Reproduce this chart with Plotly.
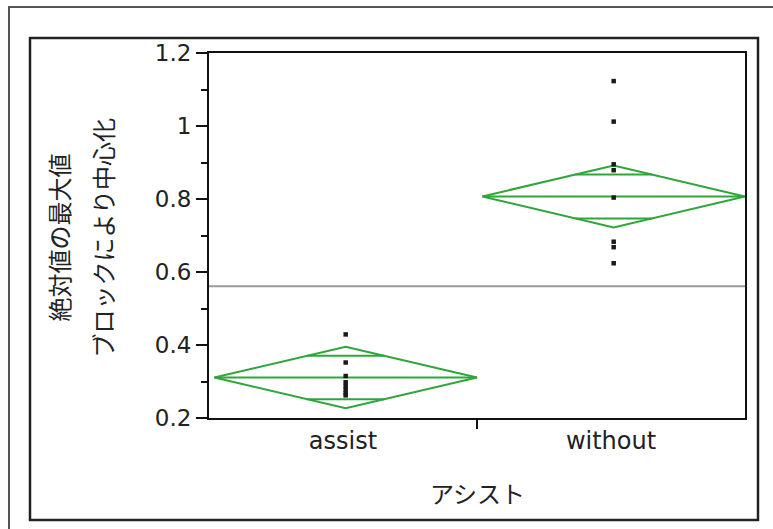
import plotly.graph_objects as go

# ---- data -------------------------------------------------------------
groups = ["assist", "without"]
group_pos = [0.51, 1.51]          # x position of each group's points / diamond centre
label_pos = [0.5, 1.5]            # x position of the category labels

assist_values = [0.429, 0.352, 0.315, 0.298, 0.288, 0.278, 0.268, 0.262]
without_values = [1.123, 1.012, 0.895, 0.879, 0.804, 0.683, 0.668, 0.624]

group_means = [0.311, 0.807]
ci_half = [0.084, 0.085]          # half width of the 95% confidence interval
grand_mean = 0.561

y_title_lines = ["絶対値の最大値", "ブロックにより中心化"]
x_title = "アシスト"

# ---- styling ----------------------------------------------------------
W, H = 773, 529
L, R, T, B = 209, 28, 53, 111      # plot area margins
PW, PH = W - L - R, H - T - B
GREEN = "#2fa63a"
FONT = "DejaVu Sans, Noto Sans CJK JP"
CJK = "Noto Sans CJK JP"
diamond_half_w = 0.49


def px_x(px):
    return (px - L) / PW


def px_y(py):
    return (H - B - py) / PH


fig = go.Figure()

# grand mean reference line
fig.add_trace(go.Scatter(x=[0, 2], y=[grand_mean, grand_mean], mode="lines",
                         line=dict(color="#9a9a9a", width=2), hoverinfo="skip"))

# means diamonds with overlap marks
for xc, m, ci in zip(group_pos, group_means, ci_half):
    xl, xr = xc - diamond_half_w, xc + diamond_half_w
    fig.add_trace(go.Scatter(
        x=[xl, xc, xr, xc, xl], y=[m, m + ci, m, m - ci, m],
        mode="lines", line=dict(color=GREEN, width=2)))
    fig.add_trace(go.Scatter(x=[xl, xr], y=[m, m], mode="lines",
                             line=dict(color=GREEN, width=2)))
    off = ci / 2 ** 0.5
    frac = 1 - off / ci
    for yy in (m + off, m - off):
        fig.add_trace(go.Scatter(
            x=[xc - diamond_half_w * frac, xc + diamond_half_w * frac],
            y=[yy, yy], mode="lines", line=dict(color=GREEN, width=2)))

# observations
for xc, vals in zip(group_pos, [assist_values, without_values]):
    fig.add_trace(go.Scatter(x=[xc] * len(vals), y=vals, mode="markers",
                             marker=dict(symbol="square", size=4.5, color="#1a1a1a",
                                         line=dict(width=0))))

# boundary tick between the two groups
fig.add_trace(go.Scatter(x=[1], y=[0.2], xaxis="x2", mode="markers",
                         marker=dict(opacity=0), hoverinfo="skip"))

fig.update_layout(
    width=W, height=H,
    margin=dict(l=L, r=R, t=T, b=B),
    paper_bgcolor="white", plot_bgcolor="white",
    showlegend=False,
    font=dict(family=FONT, size=23, color="#222"),
    xaxis=dict(range=[0, 2], tickvals=label_pos, ticktext=groups, ticks="",
               showgrid=False, zeroline=False, showline=True, linecolor="#111",
               linewidth=2, mirror=True, ticklabelstandoff=0,
               tickfont=dict(size=24)),
    xaxis2=dict(range=[0, 2], overlaying="x", anchor="y", side="bottom",
                tickvals=[1], ticks="outside", ticklen=10, tickwidth=2,
                tickcolor="#111", showticklabels=False, showgrid=False,
                zeroline=False, showline=False),
    yaxis=dict(range=[0.2, 1.2], dtick=0.2, tick0=0.2, ticks="outside",
               ticklen=11, tickwidth=2, tickcolor="#111", showgrid=False,
               zeroline=False, showline=True, linecolor="#111", linewidth=2,
               mirror=True,
               minor=dict(dtick=0.1, ticks="outside", ticklen=6, tickwidth=2,
                          tickcolor="#111", showgrid=False)),
)

# axis titles
for px, line in zip([58, 102], y_title_lines):
    fig.add_annotation(x=px_x(px), y=px_y(237.5), xref="paper", yref="paper",
                       text=line, textangle=-90, showarrow=False,
                       xanchor="center", yanchor="middle",
                       font=dict(family=CJK, size=24, color="#222"))
fig.add_annotation(x=0.5, y=px_y(492), xref="paper", yref="paper", text=x_title,
                   showarrow=False, xanchor="center", yanchor="middle",
                   font=dict(family=CJK, size=24, color="#222"))

# report frames
fig.add_shape(type="rect", xref="paper", yref="paper",
              x0=px_x(9), x1=px_x(800), y0=px_y(560), y1=px_y(7),
              line=dict(color="#555", width=2), layer="below")
fig.add_shape(type="rect", xref="paper", yref="paper",
              x0=px_x(30), x1=px_x(758), y0=px_y(520), y1=px_y(38),
              line=dict(color="#222", width=2.5), layer="below")

fig.write_html("out.html")
